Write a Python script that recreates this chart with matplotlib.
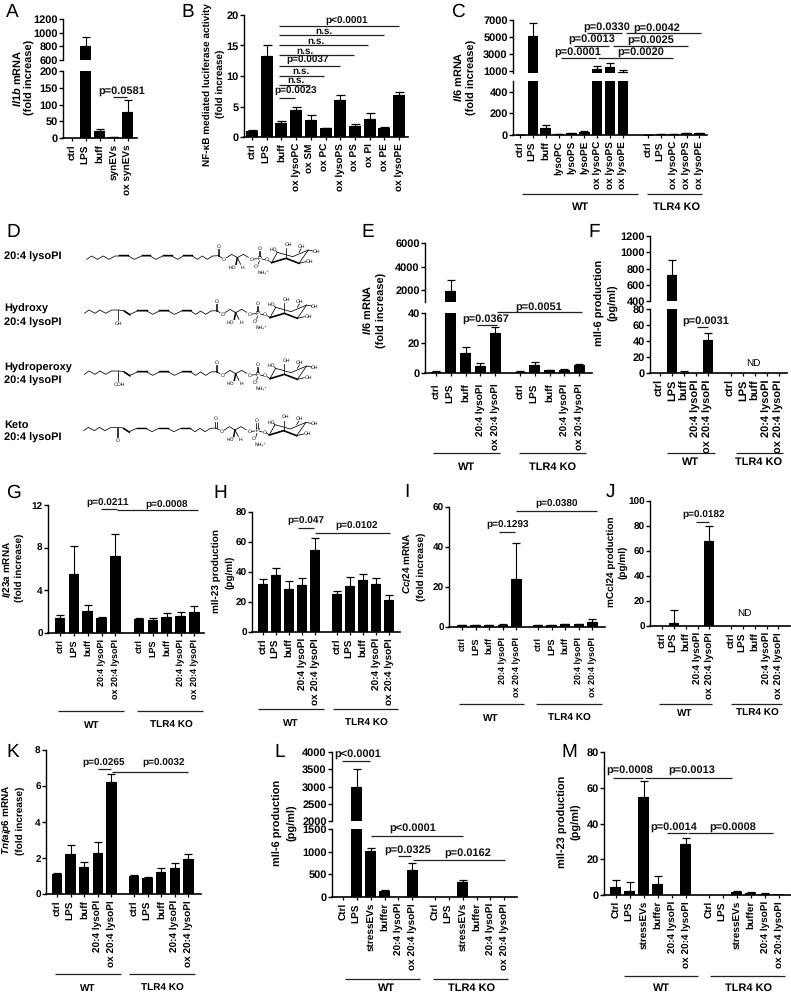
import matplotlib
matplotlib.use('Agg')
import matplotlib.pyplot as plt

W, H = 791, 992
plt.rcParams['font.family'] = ['Liberation Sans', 'DejaVu Sans']
plt.rcParams['font.weight'] = 'bold'
plt.rcParams['text.hinting'] = 'no_hinting'
plt.rcParams['text.hinting_factor'] = 1
plt.rcParams['mathtext.fontset'] = 'custom'
plt.rcParams['mathtext.bf'] = 'Liberation Sans:bold'
plt.rcParams['mathtext.it'] = 'Liberation Sans:italic:bold'
plt.rcParams['mathtext.rm'] = 'Liberation Sans:bold'

# x labels
lipid5 = ['ctrl', 'LPS', 'buff', '20:4 lysoPI', 'ox 20:4 lysoPI']
ev6 = ['Ctrl', 'LPS', 'stressEVs', 'buffer', '20:4 lysoPI', 'ox 20:4 lysoPI']
a_labels = ['ctrl', 'LPS', 'buff', 'synEVs', 'ox synEVs']
b_labels = ['ctrl', 'LPS', 'buff', 'ox lysoPC', 'ox SM', 'ox PC', 'ox lysoPS', 'ox PS', 'ox PI', 'ox PE', 'ox lysoPE']
c_labels = ['ctrl', 'LPS', 'buff', 'lysoPC', 'lysoPS', 'lysoPE', 'ox lysoPC', 'ox lysoPS', 'ox lysoPE']
c_labels2 = ['ctrl', 'LPS', 'ox lysoPC', 'ox lysoPS', 'ox lysoPE']

# values: bar height and top of error bar
a_vals = [1, 800, 20, 3, 77]
a_tops = [1, 930, 27, 4, 113]
b_vals = [1, 13.3, 2.3, 4.5, 2.8, 1.4, 6, 1.8, 2.9, 1.5, 6.9]
b_tops = [1.1, 15, 2.7, 4.9, 3.6, 1.5, 6.9, 2.1, 3.9, 1.6, 7.3]
c_vals = [1, 5100, 62, 10, 17, 25, 1200, 1400, 850, 2, 5, 10, 15, 15]
c_tops = [2, 6700, 95, 12, 20, 35, 1600, 1900, 1100, 3, 6, 12, 18, 18]
e_vals = [1, 1900, 13, 5, 26.5, 1, 5.5, 2, 2.3, 5.5]
e_tops = [1.2, 2900, 17.5, 6.5, 30.5, 1.2, 7.5, 2.2, 2.5, 6]
f_vals = [0, 720, 0, 0, 41, 0, 0, 0, 0, 0]
f_tops = [0, 900, 3, 0, 50, 0, 0, 0, 0, 0]
g_vals = [1.45, 5.5, 2.1, 1.4, 7.2, 1.35, 1.2, 1.5, 1.6, 2.0]
g_tops = [1.65, 8.2, 2.6, 1.5, 9.3, 1.45, 1.4, 1.9, 2.0, 2.55]
h_vals = [32, 38, 29, 31.5, 54.5, 25.5, 31, 35, 32, 21.5]
h_tops = [35.5, 43, 34, 36, 62.5, 27.5, 37, 39, 36, 24.5]
i_vals = [1, 1, 1, 1.2, 24, 1, 1, 1.3, 1.3, 2.5]
i_tops = [1.1, 1.1, 1.1, 1.5, 42, 1.1, 1.1, 1.4, 1.4, 4]
j_vals = [0, 2.5, 0, 0, 68, 0, 0, 0, 0, 0]
j_tops = [0, 12.5, 0, 0, 80, 0, 0, 0, 0, 0]
k_vals = [1.1, 2.25, 1.5, 2.3, 6.25, 1.0, 0.87, 1.2, 1.47, 1.95]
k_tops = [1.15, 2.75, 1.8, 2.9, 6.65, 1.03, 0.95, 1.45, 1.75, 2.25]
l_vals = [5, 3000, 1020, 130, 5, 600, 2, 2, 330, 8, 8, 8]
l_tops = [5, 3500, 1070, 160, 5, 760, 2, 2, 370, 8, 8, 8]
m_vals = [4.2, 2.3, 55, 6.3, 0, 28.7, 0, 0, 1.8, 1.2, 0.8, 0.3]
m_tops = [8.5, 7.5, 64, 10.7, 0, 32, 0, 0, 2, 1.6, 0.9, 0.3]

fig = plt.figure(figsize=(W / 100, H / 100), dpi=100)

# overlay in pixel coordinates for brackets, letters and group labels
ov = fig.add_axes([0, 0, 1, 1], zorder=10)
ov.set_xlim(0, W)
ov.set_ylim(H, 0)
ov.axis('off')
ov.patch.set_alpha(0)


def make_ax(x0, x1, ybot, ytop):
    return fig.add_axes([x0 / W, 1 - ybot / H, (x1 - x0) / W, (ybot - ytop) / H])


def draw_bars(ax, xs, vals, tops, bw):
    ax.bar(xs, vals, width=bw, color='black', linewidth=0)
    for x, v, t in zip(xs, vals, tops):
        if t > v:
            ax.errorbar(x, v, yerr=[[0], [t - v]], color='black', lw=0.8, capsize=bw * 0.27, capthick=0.9)


def panel(vals, tops, labels, xs, bw, x0, x1, y0, ytop, ylim, yticks, fs=7.4, pad=2, tickfs=7.8,
          upper=None):
    ax = make_ax(x0, x1, y0, ytop)
    ax.set_xlim(x0, x1)
    ax.set_ylim(*ylim)
    draw_bars(ax, xs, vals, tops, bw)
    ax.set_xticks(xs)
    ax.set_xticklabels(labels, rotation=90, fontsize=fs, fontweight='bold')
    ax.set_yticks(yticks)
    ax.tick_params(axis='x', length=2.4, width=0.9, pad=pad)
    ax.tick_params(axis='y', length=2.6, width=1.0, pad=1.2, labelsize=tickfs)
    for s in ['top', 'right']:
        ax.spines[s].set_visible(False)
    ax.spines['left'].set_linewidth(1.0)
    ax.spines['bottom'].set_linewidth(1.2)
    ax.patch.set_alpha(0)
    if upper:
        uy0, uy1, ulim, uticks = upper
        au = make_ax(x0, x1, uy0, uy1)
        au.set_xlim(x0, x1)
        au.set_ylim(*ulim)
        draw_bars(au, xs, vals, tops, bw)
        au.set_xticks([])
        au.set_yticks(uticks)
        au.tick_params(axis='y', length=2.6, width=1.0, pad=1.2, labelsize=tickfs)
        for s in ['top', 'right', 'bottom']:
            au.spines[s].set_visible(False)
        au.spines['left'].set_linewidth(1.0)
        au.patch.set_alpha(0)
    return ax


def spaced(first, step, n, first2=None, n2=0):
    xs = [first + i * step for i in range(n)]
    if first2 is not None:
        xs += [first2 + i * step for i in range(n2)]
    return xs


def brackets(items, fs=7.6):
    # text centre x, text y, line x start, line x end, line y
    for tx, ty, x1, x2, ly, s in items:
        ov.text(tx, ty, s, ha='center', va='center', fontsize=fs, color='#111111')
        ov.plot([x1, x2], [ly, ly], color='#222222', lw=0.9, solid_capstyle='butt')


def groups(y, ylab, wt, ko, fs=7.6):
    for (a, b, c), s in zip([wt, ko], ['WT', 'TLR4 KO']):
        ov.plot([a, b], [y, y], color='#222222', lw=0.9, solid_capstyle='butt')
        ov.text(c, ylab, s, ha='center', va='center', fontsize=fs)


def ylab(x1, y1, s1, x2, y2, s2, fs=7.6):
    ov.text(x1, y1, s1, rotation=90, ha='center', va='center', fontsize=fs)
    ov.text(x2, y2, s2, rotation=90, ha='center', va='center', fontsize=fs)


for s, x, y in [('A', 12, 12), ('B', 188, 12), ('C', 458, 12), ('D', 13, 232), ('E', 368, 232),
                ('F', 594, 232), ('G', 13, 493), ('H', 220, 493), ('I', 407, 492), ('J', 610, 492),
                ('K', 13, 752), ('L', 280, 752), ('M', 569, 752)]:
    ov.text(x, y, s, ha='center', va='center', fontsize=14, fontweight='normal')

# A
panel(a_vals, a_tops, a_labels, spaced(72, 13.9, 5), 11, 63, 137, 138, 71, (0, 200), [0, 50, 100, 150, 200],
      upper=(60, 19, (600, 1200), [600, 800, 1000, 1200]), fs=7.5, tickfs=8)
ylab(18, 78, r'$\mathit{Il1b}$ mRNA', 30, 77, '(fold increase)')
brackets([(122, 91, 113, 127, 97, 'p=0.0581')])

# B
panel(b_vals, b_tops, b_labels, spaced(252, 14.7, 11), 12, 244, 408, 137, 15, (0, 20), [0, 5, 10, 15, 20],
      fs=7.3, tickfs=8)
ylab(207, 85, 'NF-κB mediated luciferase activity', 220, 84, '(fold increase)', fs=7.5)
brackets([(347, 21, 279, 399, 26, 'p<0.0001'), (324, 31, 279, 384, 35, 'n.s.'), (316, 41, 279, 368, 45, 'n.s.'),
          (305, 51, 279, 354, 55, 'n.s.'), (308, 60, 279, 340, 66, 'p=0.0037'), (301, 71, 279, 324, 76, 'n.s.'),
          (296, 80, 279, 310, 85, 'n.s.'), (296, 91, 279, 295, 98, 'p=0.0023')], fs=7.3)

# C
panel(c_vals, c_tops, c_labels + c_labels2, spaced(520, 12.85, 9, 648, 5), 10.5, 513, 707, 135, 81, (0, 500),
      [0, 200, 400], upper=(73, 20, (720, 7000), [1000, 3000, 5000, 7000]), fs=7.4, tickfs=7.8)
ylab(459, 77, r'$\mathit{Il6}$ mRNA', 472, 77, '(fold increase)')
brackets([(607, 27, 587, 622, 33, 'p=0.0330'), (657, 28, 626, 701, 33, 'p=0.0042'),
          (592, 39, 574, 609, 46, 'p=0.0013'), (651, 40, 613, 688, 46, 'p=0.0025'),
          (578, 52, 561, 596, 58, 'p=0.0001'), (641, 52, 598, 673, 58, 'p=0.0020')])
groups(194, 207, (522, 638, 581), (647, 702, 677))

# D: structures, drawn in the 3x crop coordinates


def lipid(dx, dy, kind):
    def P(pts, lw=0.55):
        ov.plot([(p[0] + dx) / 3 for p in pts], [215 + (p[1] + dy) / 3 for p in pts], color='black', lw=lw,
                solid_joinstyle='miter')

    def T(x, y, s, fs=3.7):
        ov.text((x + dx) / 3, 215 + (y + dy) / 3, s, ha='center', va='center', fontsize=fs, fontweight='normal')

    if kind == 'plain':
        P([(260, 133), (275, 123), (292, 133), (310, 123), (327, 133), (345, 123), (358, 123), (385, 123), (403, 133),
           (425, 123), (450, 123), (468, 133), (488, 123), (515, 123), (533, 133), (550, 123), (577, 123)])
        dbl = [(358, 385), (425, 450), (488, 515), (550, 577)]
    else:
        P([(258, 130), (272, 120), (290, 130), (305, 120), (322, 130), (340, 120), (360, 120), (378, 122), (395, 133),
           (417, 123), (445, 123), (463, 133), (483, 123), (510, 123), (528, 133), (550, 123), (577, 123)])
        P([(378, 124), (395, 135)], 1.0)
        dbl = [(417, 445), (483, 510), (550, 577)]
        if kind == 'keto':
            P([(359, 122), (359, 150)])
            P([(362, 122), (362, 150)])
            T(360, 160, 'O')
        else:
            P([(360, 120), (360, 150)])
            T(362, 160, 'OH' if kind == 'oh' else 'OOH')
    for a, b in dbl:
        P([(a, 121), (b, 121)], 1.0)
    P([(577, 123), (592, 133), (607, 123), (622, 133), (638, 123), (655, 122), (665, 128)])
    P([(653, 103), (653, 122)])
    P([(657, 103), (657, 122)])
    T(655, 94, 'O')
    T(672, 133, 'O')
    P([(680, 128), (695, 118), (712, 128), (730, 118), (745, 127)])
    P([(712, 128), (708, 148)], 1.1)
    P([(712, 128), (722, 148)])
    T(697, 158, 'HO')
    T(728, 157, 'H')
    T(755, 133, 'O')
    P([(762, 132), (772, 131)])
    T(778, 130, 'P', 4.2)
    P([(776, 108), (776, 122)])
    P([(780, 108), (780, 122)])
    T(778, 100, 'O')
    P([(778, 138), (775, 147)])
    T(772, 155, 'O⁻')
    P([(786, 132), (794, 134)])
    T(800, 135, 'O')
    P([(806, 137), (815, 143)])
    T(790, 172, 'NH₄⁺')
    P([(815, 143), (858, 130), (897, 145)], 1.2)
    P([(815, 143), (832, 112), (878, 125), (925, 105), (897, 145)])
    P([(858, 130), (858, 100)])
    P([(832, 112), (828, 108)])
    P([(897, 112), (903, 102)])
    P([(925, 105), (940, 108)])
    P([(897, 145), (918, 140)])
    T(820, 105, 'HO')
    T(865, 89, 'OH')
    T(905, 95, 'OH')
    T(950, 110, 'OH')
    T(930, 140, 'OH')


lipid(0, 0, 'plain')
lipid(-5, 165, 'oh')
lipid(-5, 348, 'ooh')
lipid(-7, 517, 'keto')
for y, s in [(257, '20:4 lysoPI'), (309, 'Hydroxy'), (323, '20:4 lysoPI'), (368, 'Hydroperoxy'), (381, '20:4 lysoPI'),
             (425, 'Keto'), (438, '20:4 lysoPI')]:
    ov.text(4, y, s, ha='left', va='center', fontsize=7.8)

# E
panel(e_vals, e_tops, lipid5 + lipid5, spaced(436, 14.75, 5, 520, 5), 11, 425, 592, 373, 313, (0, 40), [0, 20, 40],
      upper=(302, 243, (1000, 6000), [2000, 4000, 6000]), pad=5, fs=7.0)
ylab(368, 310, r'$\mathit{Il6}$ mRNA', 382, 310, '(fold increase)')
brackets([(486, 319, 477, 497, 325, 'p=0.0367'), (539, 307, 497, 582, 312, 'p=0.0051')])
groups(453, 467, (433, 500, 467), (519, 586, 553))

# F
panel(f_vals, f_tops, lipid5 + lipid5, spaced(660, 12, 5, 731, 5), 10, 650, 787, 373, 309, (0, 80),
      [0, 20, 40, 60, 80], upper=(301, 236, (400, 1200), [400, 600, 800, 1000, 1200]), fs=7.6)
ylab(600, 303, 'mIl-6 production', 613, 303, '(pg/ml)')
brackets([(706, 321, 697, 708, 327, 'p=0.0031')])
groups(453, 462, (667, 715, 691), (736, 783, 759))
ov.text(753, 363, 'ND', ha='center', va='center', fontsize=7.2, fontweight='normal')

# G
panel(g_vals, g_tops, lipid5 + lipid5, spaced(60, 13.85, 5, 139, 5), 10.7, 48, 204, 633, 505, (0, 12), [0, 4, 8, 12],
      fs=6.8, tickfs=7.4)
ylab(7, 569, r'$\mathit{Il23a}$ mRNA', 19, 568, '(fold increase)', fs=7.3)
brackets([(108, 503, 101, 117, 509, 'p=0.0211'), (167, 505, 117, 198, 510, 'p=0.0008')], fs=7.2)
groups(711, 725, (58, 124, 92), (137, 203, 171), fs=7.2)

# H
panel(h_vals, h_tops, lipid5 + lipid5, spaced(263, 13, 5, 337, 5), 10.2, 252, 400, 632, 512, (0, 80),
      [0, 20, 40, 60, 80], fs=7.2, tickfs=7.4)
ylab(216, 571, 'mIl-23 production', 230, 572, '(pg/ml)', fs=7.3)
brackets([(306, 521, 298, 314, 528, 'p=0.047'), (357, 526, 315, 390, 533, 'p=0.0102')], fs=7.2)
groups(709, 723, (258, 324, 291), (333, 398, 366), fs=7.2)

# I
panel(i_vals, i_tops, lipid5 + lipid5, spaced(462, 13.6, 5, 538, 5), 10.5, 449, 605, 627, 507, (0, 60),
      [0, 20, 40, 60], fs=6.8, tickfs=7.4, pad=5)
ylab(407, 563, r'$\mathit{Ccl24}$ mRNA', 421, 567, '(fold increase)', fs=7.3)
brackets([(508, 525, 499, 515, 532, 'p=0.1293'), (557, 504, 516, 597, 511, 'p=0.0380')], fs=7.2)
groups(704, 718, (459, 524, 491), (536, 602, 569), fs=7.2)

# J
panel(j_vals, j_tops, lipid5 + lipid5, spaced(662, 11.85, 5, 731, 5), 10, 650, 790, 626, 501, (0, 100),
      [0, 20, 40, 60, 80, 100], fs=7.3, tickfs=7.4)
ylab(611, 562, 'mCcl24 production', 623, 562, '(pg/ml)', fs=7.3)
brackets([(704, 515, 696, 709, 522, 'p=0.0182')], fs=7.2)
groups(704, 713, (659, 712, 685), (731, 782, 757), fs=7.2)
ov.text(744, 613, 'ND', ha='center', va='center', fontsize=7, fontweight='normal')

# K
panel(k_vals, k_tops, lipid5 + lipid5, spaced(57, 13.6, 5, 134, 5), 10.5, 46, 201, 894, 750, (0, 8), [0, 2, 4, 6, 8],
      fs=7.4, tickfs=7.4)
ylab(7, 820, r'$\mathit{Tnfaip6}$ mRNA', 20, 821, '(fold increase)', fs=7.3)
brackets([(104, 763, 98, 111, 769, 'p=0.0265'), (164, 763, 112, 188, 772, 'p=0.0032')], fs=7.2)
groups(974, 988, (55, 121, 88), (129, 195, 162), fs=7.2)

# L
panel(l_vals, l_tops, ev6 + ev6, spaced(343, 13.85, 6, 435, 6), 11, 332, 517, 897, 829, (0, 1500), [0, 500, 1000, 1500],
      upper=(821, 752, (2000, 4000), [2000, 2500, 3000, 3500, 4000]), fs=7.4, tickfs=7.6)
ylab(278, 823, 'mIl-6 production', 292, 823, '(pg/ml)')
brackets([(358, 754, 342, 370, 761, 'p<0.0001'), (413, 828, 371, 463, 836, 'p<0.0001'),
          (408, 850, 398, 411, 856, 'p=0.0325'), (468, 853, 413, 505, 860, 'p=0.0162')])
groups(979, 988, (345, 420, 387), (433, 508, 472))

# M
panel(m_vals, m_tops, ev6 + ev6, spaced(616, 14, 6, 709, 6), 11, 604, 791, 895, 752, (0, 80), [0, 20, 40, 60, 80],
      fs=7.3, tickfs=7.6)
ylab(563, 822, 'mIl-23 production', 576, 822, '(pg/ml)')
brackets([(630, 770, 613, 643, 778, 'p=0.0008'), (692, 770, 645, 732, 778, 'p=0.0013'),
          (674, 827, 667, 687, 833, 'p=0.0014'), (733, 827, 688, 773, 833, 'p=0.0008')])
groups(976, 988, (624, 698, 662), (710, 785, 749))

fig.savefig('out.png', dpi=100)
